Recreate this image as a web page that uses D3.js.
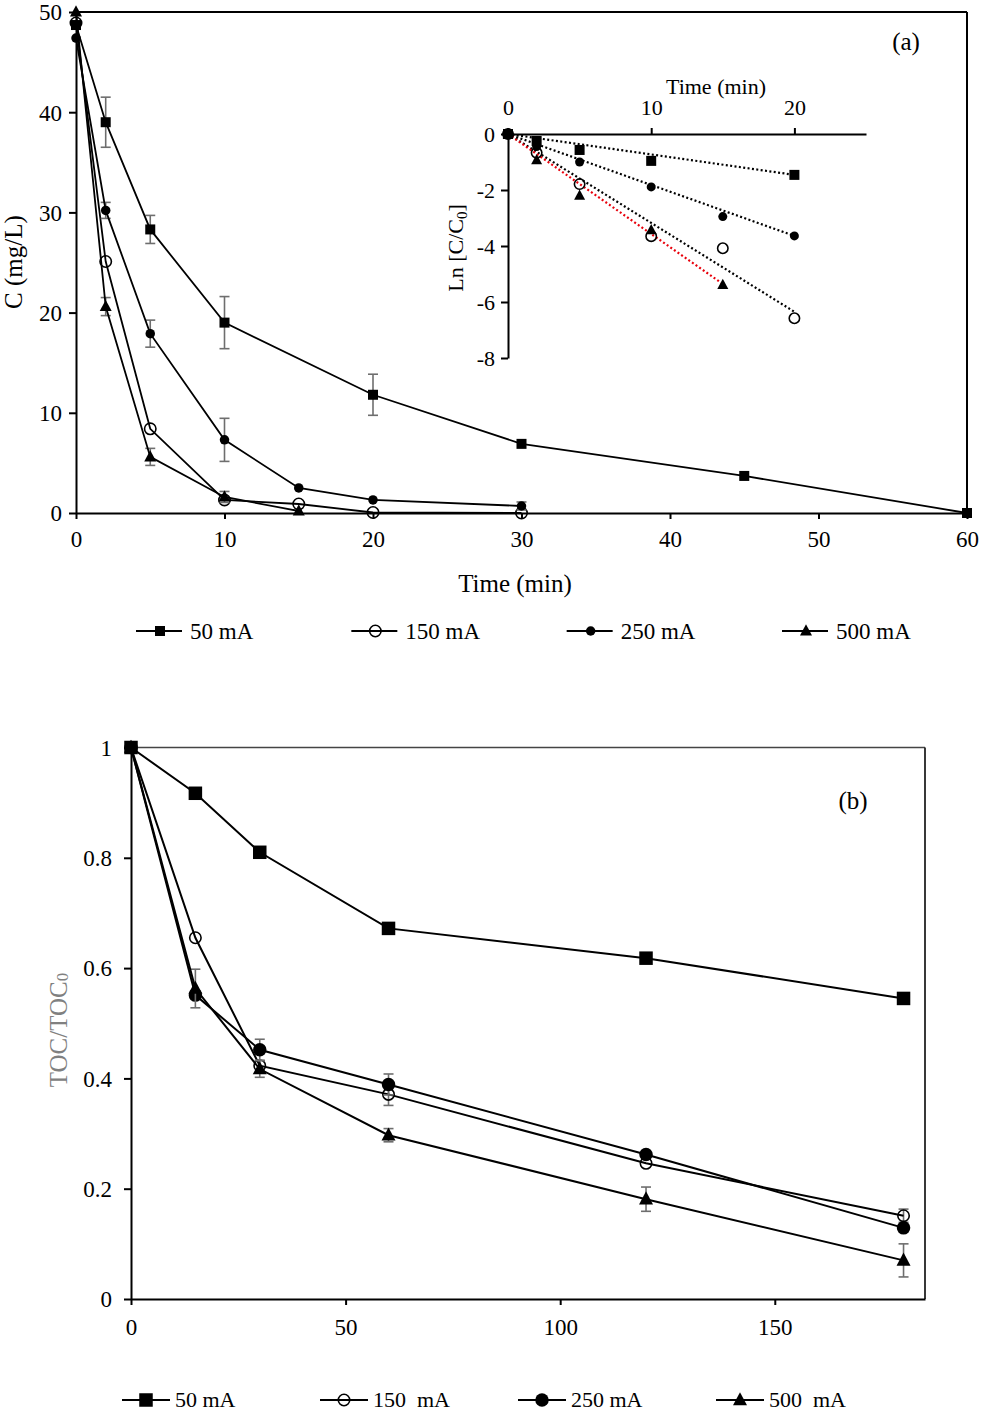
<!DOCTYPE html>
<html>
<head>
<meta charset="utf-8">
<script src="https://cdn.jsdelivr.net/npm/d3@7"></script>
<style>
body { margin: 0; background: #fff; }
svg { font-family: "Liberation Serif", "Times New Roman", Times, serif; }
</style>
</head>
<body>
<svg id="chart" width="981" height="1414"></svg>
<script>
// ---- data: panel (a) concentration vs time ----
const legendA = ['50 mA', '150 mA', '250 mA', '500 mA'];
const symbolsA = ['square', 'circleOpen', 'circle', 'triangle'];

const timeA50 = [0, 2, 5, 10, 20, 30, 45, 60];
const concA50 = [48.7, 39.0, 28.3, 19.0, 11.8, 6.9, 3.7, 0];
const errA50 = [0, 2.5, 1.4, 2.6, 2.05, 0, 0, 0];

const timeA150 = [0, 2, 5, 10, 15, 20, 30];
const concA150 = [48.9, 25.1, 8.4, 1.3, 0.9, 0.05, 0];
const errA150 = [0, 0, 0, 0, 0, 0, 0];

const timeA250 = [0, 2, 5, 10, 15, 20, 30];
const concA250 = [47.4, 30.2, 17.9, 7.3, 2.5, 1.3, 0.7];
const errA250 = [0, 0.8, 1.35, 2.15, 0, 0, 0.4];

const timeA500 = [0, 2, 5, 10, 15];
const concA500 = [50.0, 20.6, 5.6, 1.6, 0.2];
const errA500 = [0, 0.9, 0.85, 0.55, 0];

const ticksAx = [0, 10, 20, 30, 40, 50, 60];
const ticksAy = [0, 10, 20, 30, 40, 50];

// ---- data: inset Ln[C/C0] ----
const timeI50 = [0, 2, 5, 10, 20];
const lnI50 = [0, -0.25, -0.57, -0.96, -1.46];
const timeI150 = [0, 2, 5, 10, 15, 20];
const lnI150 = [0, -0.67, -1.79, -3.65, -4.08, -6.58];
const timeI250 = [0, 2, 5, 10, 15, 20];
const lnI250 = [0, -0.45, -1.0, -1.89, -2.95, -3.64];
const timeI500 = [0, 2, 5, 10, 15];
const lnI500 = [0, -0.93, -2.2, -3.43, -5.39];
const trendSlope = [-0.073, -0.3175, -0.182, -0.357];
const trendColor = ['#000', '#000', '#000', '#e8000b'];
const ticksIx = [0, 10, 20];
const ticksIy = [-8, -6, -4, -2, 0];

// ---- data: panel (b) TOC/TOC0 ----
const legendB = ['50 mA', '150  mA', '250 mA', '500  mA'];
const timeB = [0, 15, 30, 60, 120, 180];
const tocB50 = [1, 0.917, 0.81, 0.672, 0.618, 0.545];
const tocB150 = [1, 0.655, 0.423, 0.371, 0.246, 0.151];
const tocB250 = [1, 0.551, 0.452, 0.389, 0.262, 0.129];
const tocB500 = [1, 0.563, 0.417, 0.297, 0.181, 0.07];
const errB50 = [0, 0, 0, 0, 0, 0];
const errB150 = [0, 0, 0, 0.02, 0, 0.012];
const errB250 = [0, 0, 0.019, 0.019, 0, 0];
const errB500 = [0, 0.035, 0.015, 0.012, 0.022, 0.03];
const ticksBx = [0, 50, 100, 150];
const ticksBy = [0, 0.2, 0.4, 0.6, 0.8, 1];

const svg = d3.select('#chart');
const ERR_COLOR = '#6e6e6e';
const FONT = '"Liberation Serif", "Times New Roman", Times, serif';

// marker helper
function drawMarker(g, type, x, y, s) {
    if (type === 'square') {
        g.append('rect').attr('x', x - s / 2).attr('y', y - s / 2)
            .attr('width', s).attr('height', s).attr('fill', '#000');
    } else if (type === 'circle') {
        g.append('circle').attr('cx', x).attr('cy', y).attr('r', s / 2).attr('fill', '#000');
    } else if (type === 'circleOpen') {
        g.append('circle').attr('cx', x).attr('cy', y).attr('r', s / 2 - 0.8)
            .attr('fill', 'none').attr('stroke', '#000').attr('stroke-width', 1.6);
    } else if (type === 'triangle') {
        const h = s * 0.9;
        g.append('path')
            .attr('d', `M${x},${y - h * 0.62}L${x + s / 2},${y + h * 0.42}L${x - s / 2},${y + h * 0.42}Z`)
            .attr('fill', '#000');
    }
}

function drawSeries(g, xs, ys, errs, x, y, type, size, lw) {
    const pts = xs.map((t, i) => ({ t, v: ys[i], e: errs ? errs[i] : 0 }));
    // error bars
    pts.filter(p => p.e > 0).forEach(p => {
        const eg = g.append('g').attr('stroke', ERR_COLOR).attr('stroke-width', 1.6);
        eg.append('line').attr('x1', x(p.t)).attr('x2', x(p.t)).attr('y1', y(p.v - p.e)).attr('y2', y(p.v + p.e));
        [p.v - p.e, p.v + p.e].forEach(v => {
            eg.append('line').attr('x1', x(p.t) - 5).attr('x2', x(p.t) + 5).attr('y1', y(v)).attr('y2', y(v));
        });
    });
    g.append('path')
        .datum(pts)
        .attr('fill', 'none')
        .attr('stroke', '#000')
        .attr('stroke-width', lw)
        .attr('d', d3.line().x(p => x(p.t)).y(p => y(p.v)));
    pts.forEach(p => drawMarker(g, type, x(p.t), y(p.v), size));
}

function styleAxis(a, fontSize) {
    a.selectAll('path.domain').attr('stroke', '#000').attr('stroke-width', 2);
    a.selectAll('.tick line').attr('stroke', '#000').attr('stroke-width', 2);
    a.selectAll('.tick text').attr('fill', '#000').style('font-size', fontSize + 'px')
        .style('font-family', FONT);
}

// ================= Panel (a) =================
const xA = d3.scaleLinear().domain([0, 60]).range([76, 967]);
const yA = d3.scaleLinear().domain([0, 50]).range([513, 12]);

const gA = svg.append('g');
// frame top/right
gA.append('line').attr('x1', xA(0)).attr('x2', xA(60)).attr('y1', yA(50)).attr('y2', yA(50))
    .attr('stroke', '#000').attr('stroke-width', 2);
gA.append('line').attr('x1', xA(60)).attr('x2', xA(60)).attr('y1', yA(50)).attr('y2', yA(0))
    .attr('stroke', '#000').attr('stroke-width', 2);

const axAx = gA.append('g').attr('transform', `translate(0,${yA(0)})`)
    .call(d3.axisBottom(xA).tickValues(ticksAx).tickSize(6).tickSizeOuter(0));
styleAxis(axAx, 23);
axAx.selectAll('.tick text').attr('y', 34).attr('dy', 0);

const axAy = gA.append('g').attr('transform', `translate(${xA(0)},0)`)
    .call(d3.axisLeft(yA).tickValues(ticksAy).tickSize(7).tickSizeOuter(0));
styleAxis(axAy, 23);
axAy.selectAll('.tick text').attr('x', -14).attr('dy', '0.34em');

gA.append('text').attr('x', 515).attr('y', 592).attr('text-anchor', 'middle')
    .style('font-size', '25px').text('Time (min)');
gA.append('text').attr('transform', 'translate(22,262) rotate(-90)').attr('text-anchor', 'middle')
    .style('font-size', '25px').text('C (mg/L)');
gA.append('text').attr('x', 906).attr('y', 50).attr('text-anchor', 'middle')
    .style('font-size', '25px').text('(a)');

const seriesA = [
    [timeA50, concA50, errA50],
    [timeA150, concA150, errA150],
    [timeA250, concA250, errA250],
    [timeA500, concA500, errA500]
];
const sizeA = { square: 10, circleOpen: 13, circle: 9.5, triangle: 12 };
seriesA.forEach((s, i) => drawSeries(gA, s[0], s[1], s[2], xA, yA, symbolsA[i], sizeA[symbolsA[i]], 1.8));

// ---- inset ----
const xI = d3.scaleLinear().domain([0, 25]).range([508, 866]);
const yI = d3.scaleLinear().domain([-8, 0]).range([358, 134]);
const gI = svg.append('g');

const axIx = gI.append('g').attr('transform', `translate(0,${yI(0)})`)
    .call(d3.axisTop(xI).tickValues(ticksIx).tickSize(6).tickSizeOuter(0));
styleAxis(axIx, 22);
axIx.selectAll('.tick text').attr('y', -19).attr('dy', 0);

const axIy = gI.append('g').attr('transform', `translate(${xI(0)},0)`)
    .call(d3.axisLeft(yI).tickValues(ticksIy).tickSize(7).tickSizeOuter(0).tickFormat(d => String(d)));
styleAxis(axIy, 22);
axIy.selectAll('.tick text').attr('x', -13).attr('dy', '0.34em');

gI.append('text').attr('x', 716).attr('y', 94).attr('text-anchor', 'middle')
    .style('font-size', '22px').text('Time (min)');
const ilab = gI.append('text').attr('transform', 'translate(463,248) rotate(-90)')
    .attr('text-anchor', 'middle').style('font-size', '22px');
ilab.append('tspan').text('Ln [C/C');
ilab.append('tspan').attr('dy', 4).style('font-size', '15px').text('0');
ilab.append('tspan').attr('dy', -4).text(']');

const seriesI = [
    [timeI50, lnI50],
    [timeI150, lnI150],
    [timeI250, lnI250],
    [timeI500, lnI500]
];
// trend lines first
seriesI.forEach((s, i) => {
    const tEnd = d3.max(s[0]);
    gI.append('line')
        .attr('x1', xI(0)).attr('y1', yI(0))
        .attr('x2', xI(tEnd)).attr('y2', yI(trendSlope[i] * tEnd))
        .attr('stroke', trendColor[i]).attr('stroke-width', 2.2)
        .attr('stroke-dasharray', '2,2.4');
});
const sizeI = { square: 10, circleOpen: 12, circle: 9, triangle: 11 };
seriesI.forEach((s, i) => {
    s[0].forEach((t, k) => drawMarker(gI, symbolsA[i], xI(t), yI(s[1][k]), sizeI[symbolsA[i]]));
});

// ---- legend (a) ----
const legAx = d3.scalePoint().domain(legendA).range([136, 782]);
legendA.forEach((name, i) => {
    const x0 = legAx(name);
    gA.append('line').attr('x1', x0).attr('x2', x0 + 46).attr('y1', 631).attr('y2', 631)
        .attr('stroke', '#000').attr('stroke-width', 1.8);
    drawMarker(gA, symbolsA[i], x0 + 24, 631, sizeA[symbolsA[i]]);
    gA.append('text').attr('x', x0 + 54).attr('y', 639).style('font-size', '23px').text(name);
});

// ================= Panel (b) =================
const xB = d3.scaleLinear().domain([0, 185]).range([131, 925]);
const yB = d3.scaleLinear().domain([0, 1]).range([1299, 747.5]);
const gB = svg.append('g');

gB.append('line').attr('x1', xB(0)).attr('x2', xB(185)).attr('y1', yB(1)).attr('y2', yB(1))
    .attr('stroke', '#444').attr('stroke-width', 1.6);
gB.append('line').attr('x1', xB(185)).attr('x2', xB(185)).attr('y1', yB(1)).attr('y2', yB(0))
    .attr('stroke', '#222').attr('stroke-width', 1.8);

const axBx = gB.append('g').attr('transform', `translate(0,${yB(0)})`)
    .call(d3.axisBottom(xB).tickValues(ticksBx).tickSize(6).tickSizeOuter(0));
styleAxis(axBx, 23);
axBx.selectAll('.tick text').attr('y', 36).attr('dy', 0);

const axBy = gB.append('g').attr('transform', `translate(${xB(0)},0)`)
    .call(d3.axisLeft(yB).tickValues(ticksBy).tickSize(7).tickSizeOuter(0).tickFormat(d => String(d)));
styleAxis(axBy, 23);
axBy.selectAll('.tick text').attr('x', -19).attr('dy', '0.34em');

const blab = gB.append('text').attr('transform', 'translate(67,1030) rotate(-90)')
    .attr('text-anchor', 'middle').attr('fill', '#808080').style('font-size', '25px');
blab.append('tspan').text('TOC/TOC');
blab.append('tspan').attr('dy', 1).style('font-size', '17px').text('0');

gB.append('text').attr('x', 853).attr('y', 809).attr('text-anchor', 'middle')
    .style('font-size', '25px').text('(b)');

const seriesB = [
    [tocB50, errB50],
    [tocB150, errB150],
    [tocB250, errB250],
    [tocB500, errB500]
];
const sizeB = { square: 13.5, circleOpen: 13, circle: 13.5, triangle: 14 };
seriesB.forEach((s, i) => drawSeries(gB, timeB, s[0], s[1], xB, yB, symbolsA[i], sizeB[symbolsA[i]], 2));

// ---- legend (b) ----
const legBx = d3.scalePoint().domain(legendB).range([122, 716]);
legendB.forEach((name, i) => {
    const x0 = legBx(name);
    gB.append('line').attr('x1', x0).attr('x2', x0 + 48).attr('y1', 1400).attr('y2', 1400)
        .attr('stroke', '#000').attr('stroke-width', 2);
    drawMarker(gB, symbolsA[i], x0 + 24, 1400, sizeB[symbolsA[i]]);
    gB.append('text').attr('x', x0 + 53).attr('y', 1407).style('font-size', '22px')
        .style('white-space', 'pre').attr('xml:space', 'preserve').text(name);
});
</script>
</body>
</html>
